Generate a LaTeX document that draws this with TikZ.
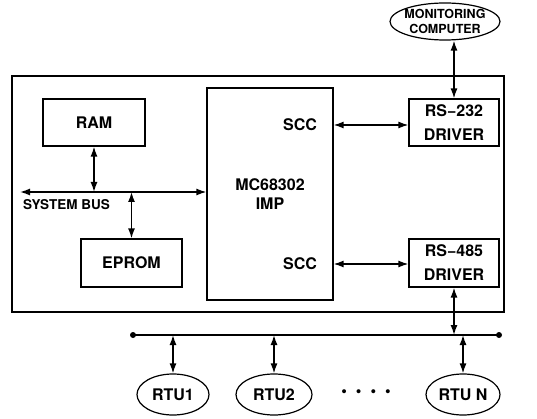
\documentclass[tikz,border=0pt]{standalone}
\usepackage{fontspec}
\setmainfont{TeX Gyre Heros}
\usetikzlibrary{arrows.meta,shapes.geometric}

\begin{document}
\begin{tikzpicture}[
    x=1pt, y=-1pt,
    >={Latex[length=10pt,width=7pt]},
    blk/.style={rectangle, draw, line width=1.2pt, inner sep=0pt, align=center,
                font=\fontsize{16}{19}\selectfont\bfseries},
    mem/.style={blk, minimum width=102pt, minimum height=47pt},
    drv/.style={blk, minimum width=90pt, minimum height=47pt},
    unit/.style={ellipse, draw, line width=1.2pt, inner sep=0pt, minimum height=41pt},
    lbl/.style={inner sep=0pt, font=\fontsize{16}{19}\selectfont\bfseries},
    arr/.style={<->, line width=1.4pt},
    bus/.style={line width=1.4pt}
]
\useasboundingbox (0,0) rectangle (537,419);

% ---- Controller board (absolute positions, px) ----
\node[draw, line width=1.2pt, minimum width=492pt, minimum height=236pt] (board) at (258,194) {};
\node[mem] (ram) at (94,122.5) {RAM};
\node[mem, minimum width=101pt, minimum height=48pt] (eprom) at (131.5,263) {EPROM};
\node[blk, minimum width=126pt, minimum height=212pt] (imp) at (270,194) {MC68302\\IMP};
\node[drv] (rs232) at (454,122.5) {RS−232\\[5pt]DRIVER};
\node[drv, minimum height=48pt] (rs485) at (454,263) {RS−485\\[5pt]DRIVER};
\node[lbl] (scc1) at (300,125) {SCC};
\node[lbl] (scc2) at (300,264) {SCC};

% ---- Outside units ----
\node[unit, minimum width=110pt, minimum height=37pt,
      label={[align=center, font=\fontsize{12.5}{14.5}\selectfont\bfseries]center:MONITORING\\COMPUTER}] (monitor) at (445,21.5) {};
\node[unit, minimum width=72pt, label={[lbl]center:RTU1}] (rtu1) at (173,394.5) {};
\node[unit, minimum width=76pt, label={[lbl]center:RTU2}] (rtu2) at (274,394.5) {};
\node[unit, minimum width=74pt, label={[lbl]center:RTU N}] (rtun) at (463,394.5) {};
\node[lbl] (dots) at (366,393) {•\hspace{9pt}•\hspace{9pt}•\hspace{9pt}•};

% ---- System bus ----
\coordinate (busL) at (20,192);
\coordinate (busR) at (imp.west |- busL);
\draw[arr] (busL) -- (busR);
\node[lbl, font=\fontsize{13.5}{16}\selectfont\bfseries, anchor=west] (sysbus) at (23,205) {SYSTEM BUS};
\draw[arr] (ram.south) -- (ram.south |- busL);
\draw[arr] (eprom.north) -- (eprom.north |- busL);

% ---- Serial channels ----
\draw[arr] (imp.east |- scc1) -- (rs232.west |- scc1);
\draw[arr] (imp.east |- scc2) -- (rs485.west |- scc2);
\draw[arr] (monitor.south -| rs232.north) -- (rs232.north);

% ---- RS-485 line to the RTUs ----
\coordinate (lanL) at (133,335);
\coordinate (lanR) at (499,335);
\draw[bus] (lanL) -- (lanR);
\fill (lanL) circle (3pt);
\fill (lanR) circle (3pt);
\draw[arr] (rs485.south) -- (rs485.south |- lanL);
\draw[arr] (rtu1.north |- lanL) -- (rtu1.north);
\draw[arr] (rtu2.north |- lanL) -- (rtu2.north);
\draw[arr] (rtun.north |- lanL) -- (rtun.north);

\end{tikzpicture}
\end{document}
